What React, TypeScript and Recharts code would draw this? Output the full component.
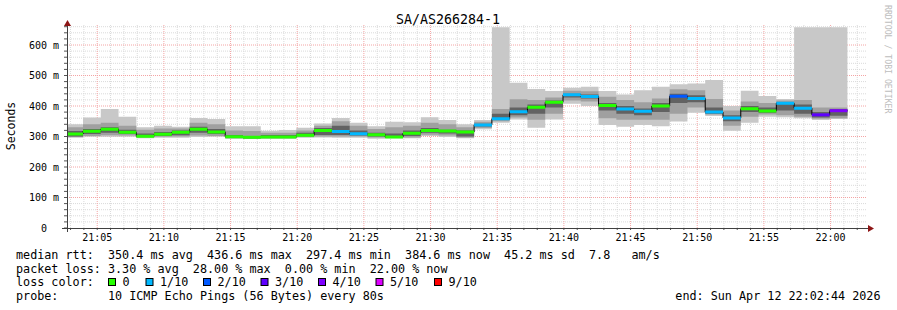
import React from 'react';
import { ComposedChart, Area, Line, XAxis, YAxis, CartesianGrid } from 'recharts';

const MONO = '"DejaVu Sans Mono", "Liberation Mono", monospace';

const TITLE = 'SA/AS266284-1';
const Y_LABEL = 'Seconds';
const VENDOR = 'RRDTOOL / TOBI OETIKER';

// time axis in seconds after 21:00
const X_START = 164;
const X_END = 3764;
const FIRST_BOUNDARY = 236;
const STEP_SEC = 80;
const Y_MAX = 665.6;

const xMinorTicks = [180, 240, 300, 360, 420, 480, 540, 600, 660, 720, 780, 840, 900, 960, 1020, 1080, 1140, 1200, 1260, 1320, 1380, 1440, 1500, 1560, 1620, 1680, 1740, 1800, 1860, 1920, 1980, 2040, 2100, 2160, 2220, 2280, 2340, 2400, 2460, 2520, 2580, 2640, 2700, 2760, 2820, 2880, 2940, 3000, 3060, 3120, 3180, 3240, 3300, 3360, 3420, 3480, 3540, 3600, 3660, 3720];
const xMajorTicks = [300, 600, 900, 1200, 1500, 1800, 2100, 2400, 2700, 3000, 3300, 3600];
const xMajorLabels = ['21:05', '21:10', '21:15', '21:20', '21:25', '21:30', '21:35', '21:40', '21:45', '21:50', '21:55', '22:00'];

const yMinorTicks = [0, 20, 40, 60, 80, 100, 120, 140, 160, 180, 200, 220, 240, 260, 280, 300, 320, 340, 360, 380, 400, 420, 440, 460, 480, 500, 520, 540, 560, 580, 600, 620, 640, 660];
const yMajorTicks = [0, 100, 200, 300, 400, 500, 600];
const yMajorLabels = ['0\u00a0\u00a0', '100 m', '200 m', '300 m', '400 m', '500 m', '600 m'];

// smoke bands (ms), one value per 80 s step
const lo1 = [296, 299, 299, 299, 294, 296, 296, 298, 299, 292, 292, 293, 293, 296, 297, 296, 296, 293, 294, 294, 302, 298, 294, 324, 345, 356, 329, 356, 407, 400, 338, 332, 338, 334, 349, 378, 367, 319, 345, 365, 363, 360, 354, 357];
const lo2 = [298, 302, 304, 303, 297, 299, 300, 303, 302, 295, 293, 294, 294, 299, 300, 300, 300, 297, 296, 297, 306, 303, 297, 328, 350, 362, 355, 375, 418, 415, 360, 355, 355, 355, 375, 395, 372, 335, 365, 372, 370, 365, 358, 360];
const lo3 = [300, 308, 312, 308, 299, 302, 304, 312, 308, 297, 294, 296, 296, 301, 305, 305, 303, 300, 297, 302, 312, 310, 300, 333, 355, 370, 375, 395, 428, 425, 385, 375, 370, 380, 410, 412, 375, 350, 380, 378, 385, 375, 362, 368];
const median = [308, 317, 324, 314, 301, 307, 314, 324, 315, 299, 297.4, 298.5, 298, 304, 320, 316, 309, 306, 298, 311, 320, 318, 315, 338, 358, 381, 396, 412, 436.6, 431, 402, 390, 383, 400, 432, 425, 380, 361, 391, 384, 409, 393, 371, 384.6];
const hi3 = [318, 325, 330, 322, 310, 315, 320, 332, 325, 305, 300, 305, 305, 312, 328, 335, 320, 312, 310, 320, 328, 322, 320, 342, 375, 395, 405, 418, 440, 438, 410, 400, 392, 410, 440, 435, 395, 370, 400, 395, 412, 405, 380, 390];
const hi2 = [330, 340, 345, 335, 322, 326, 326, 345, 340, 320, 318, 312, 312, 320, 335, 350, 335, 325, 330, 335, 345, 340, 330, 348, 390, 422, 420, 428, 450, 448, 430, 420, 412, 425, 455, 452, 423, 385, 415, 410, 418, 420, 395, 395];
const hi1 = [340, 362, 390, 365, 330, 335, 332, 361, 357, 334, 334, 319, 321, 329, 343, 361, 345, 334, 348, 347, 363, 354, 340, 354, 658, 476, 456, 449, 460, 463, 449, 438, 452, 463, 471, 474, 485, 400, 450, 433, 423, 658, 658, 658];
// loss colour index per step (0 = no loss, 1 = 1/10 ...)
const lossIdx = [0, 0, 0, 0, 0, 0, 0, 0, 0, 0, 0, 0, 0, 0, 0, 1, 1, 0, 0, 0, 0, 0, 0, 1, 1, 1, 0, 0, 1, 1, 0, 1, 1, 0, 2, 1, 1, 1, 0, 0, 1, 1, 3, 4];

const LOSS_COLORS = ['#26ff00', '#00b8ff', '#0059ff', '#5e00ff', '#7e00ff', '#dd00ff', '#ff0000'];
const LOSS_LABELS = ['0', '1/10', '2/10', '3/10', '4/10', '5/10', '9/10'];

const RTT_LINE = 'median rtt:  350.4 ms avg  436.6 ms max  297.4 ms min  384.6 ms now  45.2 ms sd  7.8   am/s';
const LOSS_LINE = 'packet loss: 3.30 % avg  28.00 % max  0.00 % min  22.00 % now';
const COLOR_LINE = 'loss color:';
const PROBE_LINE = 'probe:       10 ICMP Echo Pings (56 Bytes) every 80s';
const END_LINE = 'end: Sun Apr 12 22:02:44 2026';

const stepStart = (i: number) => (i === 0 ? X_START : FIRST_BOUNDARY + STEP_SEC * (i - 1));
const stepEnd = (i: number) => FIRST_BOUNDARY + STEP_SEC * i;

const rows: any[] = median.map((m, i) => ({
  t: stepStart(i),
  b1: [lo1[i], hi1[i]],
  b2: [lo2[i], hi2[i]],
  b3: [lo3[i], hi3[i]],
  med: m,
}));
rows.push({ ...rows[rows.length - 1], t: stepEnd(median.length - 1) });

const segData = LOSS_COLORS.map((_, c) => {
  const out: any[] = [];
  median.forEach((m, i) => {
    if (lossIdx[i] !== c) return;
    out.push({ t: stepStart(i), v: m }, { t: stepEnd(i), v: m }, { t: stepEnd(i), v: null });
  });
  return out;
});

const fmtX = (v: number) => {
  const k = xMajorTicks.indexOf(v);
  return k >= 0 ? xMajorLabels[k] : '';
};
const fmtY = (v: number) => {
  const k = yMajorTicks.indexOf(v);
  return k >= 0 ? yMajorLabels[k] : '';
};

const xMinorGrid = xMinorTicks.filter((v) => xMajorTicks.indexOf(v) < 0);
const yMinorGrid = yMinorTicks.filter((v) => yMajorTicks.indexOf(v) < 0);
const yMajorGrid = yMajorTicks.filter((v) => v > 0);

const legendBoxX = [108.5, 146, 203.5, 261, 318.5, 376, 434.5];

export default function App() {
  const tickStyle = { fontSize: 10, fill: '#000', fontFamily: MONO };
  return (
    <div style={{ position: 'absolute', left: 0, top: 0, width: 897, height: 310, background: '#fff' }}>
      <ComposedChart width={897} height={310} data={rows} margin={{ top: 25, right: 30, bottom: 0, left: 0 }}>
        <CartesianGrid stroke="#dadada" strokeDasharray="1 1" horizontalValues={yMinorGrid} verticalValues={xMinorGrid} />
        <CartesianGrid stroke="#f4a4a4" strokeDasharray="1 1" horizontalValues={yMajorGrid} verticalValues={xMajorTicks} />
        <XAxis
          type="number"
          dataKey="t"
          domain={[X_START, X_END]}
          ticks={xMinorTicks}
          interval={0}
          tickFormatter={fmtX}
          axisLine={false}
          tickLine={{ stroke: '#555' }}
          tickSize={2}
          tickMargin={4}
          height={82}
          tick={tickStyle}
          allowDataOverflow
        />
        <YAxis
          type="number"
          domain={[0, Y_MAX]}
          ticks={yMinorTicks}
          interval={0}
          tickFormatter={fmtY}
          axisLine={false}
          tickLine={{ stroke: '#555' }}
          tickSize={3}
          tickMargin={5}
          width={67}
          tick={tickStyle}
          allowDataOverflow
        />
        <Area dataKey="b1" type="stepAfter" fill="#c8c8c8" fillOpacity={1} stroke="none" isAnimationActive={false} />
        <Area dataKey="b2" type="stepAfter" fill="#a0a0a0" fillOpacity={1} stroke="none" isAnimationActive={false} />
        <Area dataKey="b3" type="stepAfter" fill="#626262" fillOpacity={1} stroke="none" isAnimationActive={false} />
        <Line dataKey="med" type="stepAfter" stroke="#000" strokeWidth={1} dot={false} isAnimationActive={false} />
        {segData.map((d, c) =>
          d.length ? (
            <Line
              key={c}
              data={d}
              dataKey="v"
              type="linear"
              stroke={LOSS_COLORS[c]}
              strokeWidth={3}
              dot={false}
              connectNulls={false}
              isAnimationActive={false}
            />
          ) : null
        )}
      </ComposedChart>
      <svg width={897} height={310} style={{ position: 'absolute', left: 0, top: 0, pointerEvents: 'none' }}>
        <line x1={62} y1={228.5} x2={869} y2={228.5} stroke="#404040" strokeWidth={1} />
        <line x1={67.5} y1={232} x2={67.5} y2={24} stroke="#404040" strokeWidth={1} />
        <polygon points="64,26 71,26 67.5,20" fill="#8e1616" />
        <polygon points="868,225 868,232 874,228.5" fill="#8e1616" />
        <text x={448} y={23.5} textAnchor="middle" fontFamily={MONO} fontSize={13.3} fill="#000">{TITLE}</text>
        <text x={14.5} y={126} textAnchor="middle" fontFamily={MONO} fontSize={11.5} fill="#000" transform="rotate(-90 14.5 126)">{Y_LABEL}</text>
        <text x={884.5} y={5} textAnchor="start" fontFamily={MONO} fontSize={8.2} fill="#bdbdbd" transform="rotate(90 884.5 5)">{VENDOR}</text>
        <g fontFamily={MONO} fontSize={11.75} fill="#000" style={{ whiteSpace: 'pre' }}>
          <text x={16} y={259} xmlSpace="preserve">{RTT_LINE}</text>
          <text x={16} y={272.7} xmlSpace="preserve">{LOSS_LINE}</text>
          <text x={16} y={286.2} xmlSpace="preserve">{COLOR_LINE}</text>
          <text x={16} y={299.6} xmlSpace="preserve">{PROBE_LINE}</text>
          <text x={880.5} y={299.6} textAnchor="end" xmlSpace="preserve">{END_LINE}</text>
          {LOSS_LABELS.map((lab, k) => (
            <g key={lab}>
              <rect x={legendBoxX[k]} y={278.5} width={7} height={7} fill={LOSS_COLORS[k]} stroke="#000" strokeWidth={1} />
              <text x={legendBoxX[k] + 14} y={286.2}>{lab}</text>
            </g>
          ))}
        </g>
      </svg>
    </div>
  );
}
